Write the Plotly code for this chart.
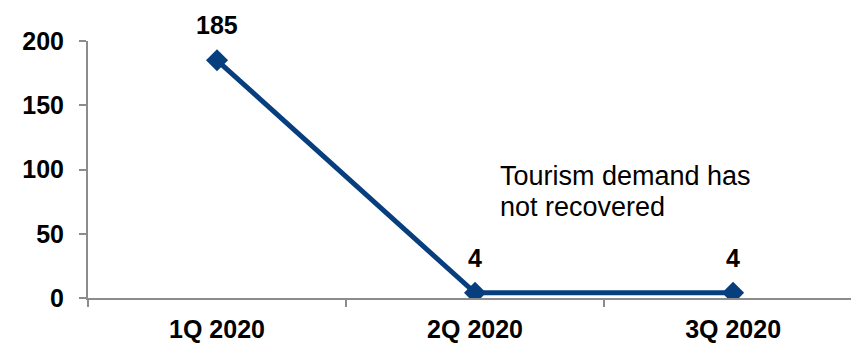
import plotly.graph_objects as go

# Quarterly values
quarters = ["1Q 2020", "2Q 2020", "3Q 2020"]
values = [185, 4, 4]
y_ticks = [0, 50, 100, 150, 200]

# Two-line note placed between the 2Q and 3Q points
note_lines = ["Tourism demand has", "not recovered"]
note_y = [95, 71]

line_color = "#073F7E"
axis_color = "#8C8C8C"
font_family = "Arial, 'Liberation Sans', sans-serif"

fig = go.Figure()
fig.add_trace(go.Scatter(
    x=quarters, y=values, mode="lines+markers",
    line=dict(color=line_color, width=5),
    marker=dict(symbol="diamond", size=17, color=line_color),
    hoverinfo="x+y", showlegend=False,
))

# Value labels above each point
for q, v in zip(quarters, values):
    fig.add_annotation(x=q, y=v, text=str(v), showarrow=False,
                       yshift=35,
                       font=dict(size=25, color="black", family=font_family, weight="bold"))

for text, y in zip(note_lines, note_y):
    fig.add_annotation(x=1.088, y=y, xref="x", yref="y", xanchor="left", yanchor="middle",
                       align="left", showarrow=False, text=text,
                       font=dict(size=27, color="black", family=font_family))

fig.update_layout(
    width=851, height=346,
    margin=dict(l=88, r=0, t=41, b=48),
    paper_bgcolor="white", plot_bgcolor="white",
    font=dict(family=font_family, color="black"),
    xaxis=dict(
        type="category", range=[-0.5, 2.457], automargin=False,
        showline=True, linecolor=axis_color, linewidth=2,
        showgrid=False, zeroline=False,
        ticks="outside", tickson="boundaries", ticklen=7, tickwidth=2, tickcolor=axis_color,
        tickfont=dict(size=25, family=font_family, color="black", weight="bold"),
        ticklabelstandoff=8,
    ),
    yaxis=dict(
        range=[0, 200], tickvals=y_ticks, automargin=False,
        showline=True, linecolor=axis_color, linewidth=2,
        showgrid=False, zeroline=False,
        ticks="outside", ticklen=7, tickwidth=2, tickcolor=axis_color,
        tickfont=dict(size=25, family=font_family, color="black", weight="bold"),
        ticklabelstandoff=10,
    ),
)

fig.write_html("out.html")
